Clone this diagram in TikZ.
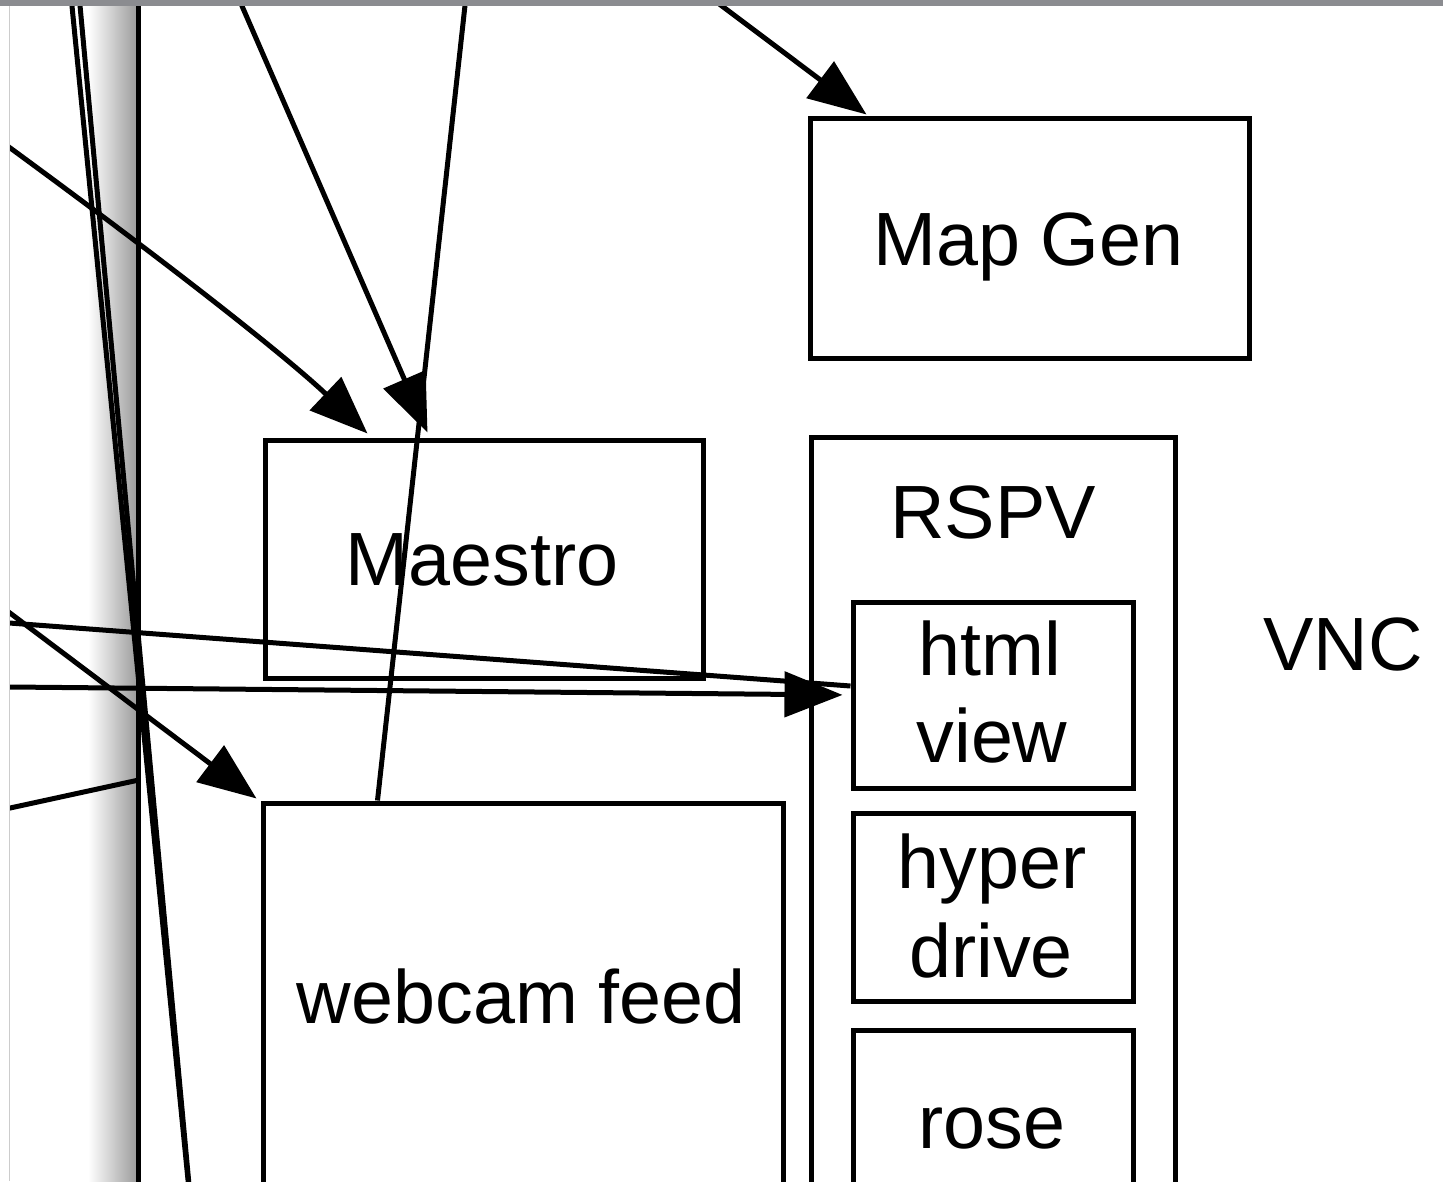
\documentclass[tikz,border=0pt]{standalone}
\usepackage{fontspec}
\setmainfont{Liberation Sans}
\usetikzlibrary{arrows.meta}
\definecolor{barGray}{HTML}{8B8C90}
\definecolor{edgeGray}{HTML}{CCCCCC}
\begin{document}
\begin{tikzpicture}[x=1pt,y=-1pt,
  box/.style={draw=black, line width=5pt, rectangle, inner sep=0pt, outer sep=2.5pt},
  lbl/.style={font=\fontsize{75.5}{87}\selectfont, inner sep=0pt, anchor=base},
  con/.style={draw=black, line width=5pt},
  arr/.style={con, -{Triangle[length=58pt,width=45pt]}}]
\useasboundingbox (0,0) rectangle (1443,1181);
\fill[white] (0,0) rectangle (1443,1181);
\begin{scope}
\clip (10,6) rectangle (1443,1181);
% shadow of the frame line
\shade[left color=white, right color=black!38] (88,6) rectangle (136,1181);
\coordinate (frameTop) at (138.5,0);
\coordinate (frameBot) at (138.5,1190);
\draw[line width=5pt] (frameTop) -- (frameBot);

% boxes
\node[box, minimum width=439pt, minimum height=240pt] (mapgen) at (1029.5,238) {};
\node[box, minimum width=438pt, minimum height=238pt] (maestro) at (484,559) {};
\node[box, minimum width=520pt, minimum height=458pt] (webcam) at (523,1032) {};
\node[box, minimum width=364pt, minimum height=863pt] (rspv) at (993,868.5) {};
\node[box, minimum width=280pt, minimum height=186pt] (html) at (993,695) {};
\node[box, minimum width=280pt, minimum height=188pt] (hyper) at (993,907) {};
\node[box, minimum width=280pt, minimum height=230pt] (rose) at (993,1145) {};

% labels
\node[lbl] (tmapgen) at (1028.5,265) {Map Gen};
\node[lbl] (tmaestro) at (482,585) {Maestro};
\node[lbl] (trspv) at (993,538) {RSPV};
\node[lbl] (thtml) at (990,675) {html};
\node[lbl] (tview) at (992,762) {view};
\node[lbl] (thyper) at (992,888) {hyper};
\node[lbl] (tdrive) at (991,977) {drive};
\node[lbl] (trose) at (992,1148) {rose};
\node[lbl] (twebcam) at (521.5,1023) {webcam feed};
\node[lbl] (tvnc) at (1343,670) {VNC};

% free ends of connectors
\coordinate (v1a) at (71.4,0);
\coordinate (v1b) at (189,1190);
\coordinate (v2a) at (79.5,0);
\coordinate (v2b) at (189.5,1190);
\coordinate (cA) at (0,140.5);
\coordinate (cB) at (239.4,0);
\coordinate (cC) at (465.6,0);
\coordinate (cD) at (714,0);
\coordinate (cE) at (0,605.5);
\coordinate (cF) at (0,622.3);
\coordinate (cG) at (0,686.9);
\coordinate (cH) at (0,810.2);
\coordinate (cHend) at (136.5,780.5);

% near-vertical lines
\draw[con] (v1a) -- (v1b);
\draw[con] (v2a) -- (v2b);

% connectors
\draw[arr] (cA) .. controls (180,272) and (290,360) .. ([xshift=105pt,yshift=4pt]maestro.north west);
\draw[arr] (cB) -- ([xshift=165pt,yshift=5pt]maestro.north west);
\draw[con] ([xshift=117pt]webcam.north west) -- (cC);
\draw[arr] (cD) -- ([xshift=59pt,yshift=1pt]mapgen.north west);
\draw[arr] (cE) -- ([xshift=-4pt,yshift=2pt]webcam.north west);
\draw[con] (cF) -- ([yshift=9pt]html.west);
\draw[arr, shorten >=8pt] (cG) -- (html.west);
\draw[con] (cH) -- (cHend);
\end{scope}

% top bar and left edge
\fill[barGray] (0,0) rectangle (1443,6);
\draw[edgeGray, line width=1pt] (9.5,6) -- (9.5,1181);
\end{tikzpicture}
\end{document}
